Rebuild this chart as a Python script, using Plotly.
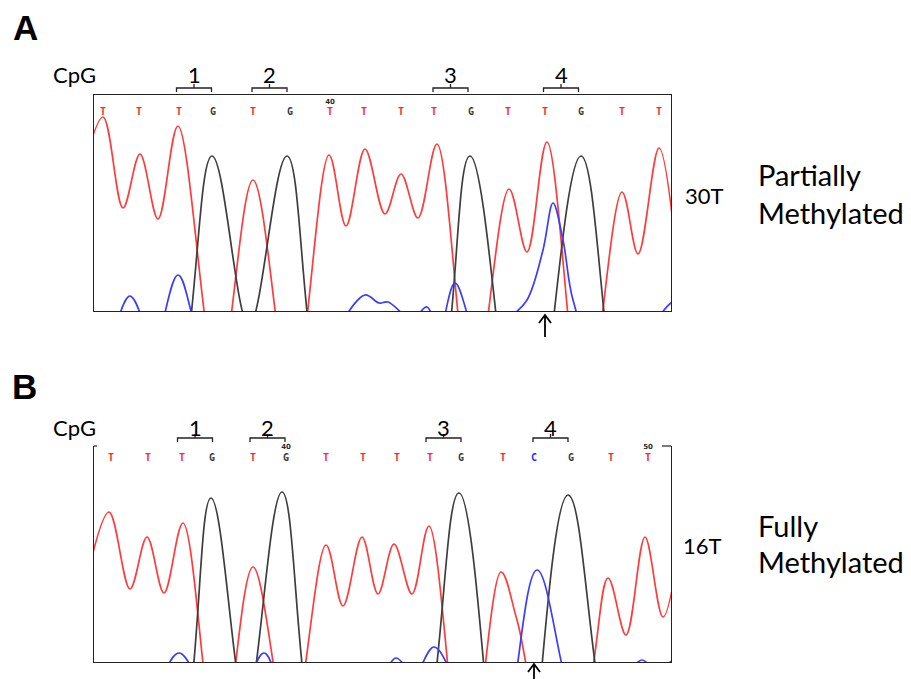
import plotly.graph_objects as go

W, H = 911, 679

# ---------------- data ----------------
# Scan positions along each trace and signal intensities per dye channel.
X_RANGE = [0, 577]
Y_RANGE = [0, 216]

# Panel A - clone 30T (partially methylated)
BASES_A = list("TTTGTGTTTTGTTGTT")
BASE_POS_A = [9, 45, 85, 119, 159, 196, 236, 270, 307, 340, 377, 414, 451, 487, 528, 565]
TICK_LABELS_A = {6: "40"}

RED_A_X = [-16, 9, 29, 46, 64, 84, 124, 159, 198, 235, 252, 271, 291, 307, 324, 343,
           378, 415, 433, 453, 490, 528, 544, 565, 584]
RED_A_Y = [120, 194, 103, 157, 92, 185, -69, 131, -89, 156, 85, 162, 97, 137, 93, 167,
           -89, 122, 59, 169, -109, 119, 57, 163, 40]

BLACK_A_X = [0, 66, 118, 155, 193, 246, 326, 376, 431, 487, 546, 606]
BLACK_A_Y = [-140, -137, 155, -15, 155, -139, -139, 155, -187, 155, -170, -140]

BLUE_A_X = [-20, 14, 36, 60, 84, 110, 150, 230, 245, 271, 285, 294, 318, 333, 345,
            361, 385, 416, 433, 449, 459, 469, 479, 495, 545, 577, 600]
BLUE_A_Y = [-30, -25, 15, -30, 36, -30, -40, -40, -15, 16, 8, 9, -8, 4, -20,
            28, -25, -6, 11, 61, 108, 71, 11, -25, -25, 8, 20]

# Panel B - clone 16T (fully methylated)
BASES_B = list("TTTGTGTTTTGTCGTT")
BASE_POS_B = [17, 54, 88, 118, 159, 192, 232, 269, 303, 336, 367, 409, 440, 477, 517, 554]
TICK_LABELS_B = {5: "40", 15: "50"}

RED_B_X = [-8, 15, 36, 53, 70, 89, 125, 159, 196, 232, 249, 268, 284, 300, 318, 335,
           372, 407, 423, 455, 489, 514, 532, 551, 569, 589]
RED_B_Y = [80, 150, 73, 125, 69, 139, -99, 95, -73, 117, 56, 125, 68, 118, 68, 136,
           -128, 90, 42, -80, -44, 84, 27, 125, 45, 140]

BLACK_B_X = [0, 70, 117, 152, 188, 240, 310, 365, 419, 474, 540, 620]
BLACK_B_Y = [-130, -134, 164, -46, 170, -140, -140, 169, -238, 167, -150, -150]

BLUE_B_X = [-20, 60, 85, 110, 150, 170, 190, 285, 302, 320, 340, 362, 403, 443, 488,
            530, 548, 562, 585]
BLUE_B_Y = [-30, -20, 9, -20, -20, 9, -20, -15, 4, -12, 15, -20, -92, 92, -56,
            -15, 2, -8, 8]

CPG_SITES = [(2, 3), (4, 5), (9, 10), (12, 13)]   # base index pairs
CPG_NAMES = ["1", "2", "3", "4"]
ARROW_BASE = 12

BASE_COLORS = {"T": "#ff2a2a", "G": "#3c3c3c", "C": "#2828ff", "A": "#1a9a1a"}
RED, BLACK, BLUE = "#ff3c3c", "#3e3e3e", "#3c3cff"

# ---------------- figure ----------------
fig = go.Figure()


def px(x):
    return x / W


def py(y):
    return 1 - y / H


def add_channel(xs, ys, color, xa, ya):
    fig.add_trace(go.Scatter(x=xs, y=ys, mode="lines",
                             line=dict(color=color, width=1.7, shape="spline", smoothing=1),
                             xaxis=xa, yaxis=ya, hoverinfo="skip", showlegend=False))


def add_calls(bases, pos, ticks, xa, ya, call_y, tick_y):
    fig.add_trace(go.Scatter(x=pos, y=[call_y] * len(pos), mode="text",
                             text=[f"<b>{b}</b>" for b in bases],
                             textfont=dict(family="DejaVu Sans Mono", size=10,
                                           color=[BASE_COLORS[b] for b in bases]),
                             cliponaxis=False, xaxis=xa, yaxis=ya, hoverinfo="skip", showlegend=False))
    fig.add_trace(go.Scatter(x=[pos[i] for i in ticks], y=[tick_y] * len(ticks), mode="text",
                             text=[f"<b>{t}</b>" for t in ticks.values()],
                             textfont=dict(family="DejaVu Sans", size=7, color="#2a2a2a"),
                             cliponaxis=False, xaxis=xa, yaxis=ya, hoverinfo="skip", showlegend=False))


add_channel(RED_A_X, RED_A_Y, RED, "x", "y")
add_channel(BLACK_A_X, BLACK_A_Y, BLACK, "x", "y")
add_channel(BLUE_A_X, BLUE_A_Y, BLUE, "x", "y")
add_calls(BASES_A, BASE_POS_A, TICK_LABELS_A, "x", "y", 199, 209)

add_channel(RED_B_X, RED_B_Y, RED, "x2", "y2")
add_channel(BLACK_B_X, BLACK_B_Y, BLACK, "x2", "y2")
add_channel(BLUE_B_X, BLUE_B_Y, BLUE, "x2", "y2")
add_calls(BASES_B, BASE_POS_B, TICK_LABELS_B, "x2", "y2", 204, 215)

ax_common = dict(range=X_RANGE, showgrid=False, zeroline=False, showticklabels=False,
                 ticks="", showline=True, linecolor="#222222", linewidth=1.2, fixedrange=True)
ay_common = dict(range=Y_RANGE, showgrid=False, zeroline=False, showticklabels=False,
                 ticks="", showline=True, linecolor="#222222", linewidth=1.2, fixedrange=True)

fig.update_layout(
    width=W, height=H, margin=dict(l=0, r=0, t=0, b=0),
    paper_bgcolor="white", plot_bgcolor="white", showlegend=False,
    xaxis=dict(domain=[px(94), px(671)], anchor="y", mirror=True, **ax_common),
    yaxis=dict(domain=[py(311), py(95)], anchor="x", mirror=True, **ay_common),
    xaxis2=dict(domain=[px(94), px(671)], anchor="y2", mirror=False, **ax_common),
    yaxis2=dict(domain=[py(662), py(446)], anchor="x2", mirror=True, **ay_common),
)

shapes = []
annotations = []
TEXT_FONT = "Lato, Open Sans, sans-serif"


def cpg_brackets(pos, xref, y_bar, y_label):
    for (i, j), name in zip(CPG_SITES, CPG_NAMES):
        c = (pos[i] + pos[j]) / 2 - 2
        x0, x1 = c - 17.5, c + 17.5
        shapes.append(dict(type="path", xref=xref, yref="paper",
                           path=f"M {x0},{py(y_bar + 4)} L {x0},{py(y_bar)} L {x1},{py(y_bar)} L {x1},{py(y_bar + 4)} "
                                f"M {c},{py(y_bar)} L {c},{py(y_bar - 4)}",
                           line=dict(color="#222222", width=1.3)))
        annotations.append(dict(x=c, y=py(y_label), xref=xref, yref="paper", text=name, showarrow=False,
                                xanchor="center", yanchor="middle",
                                font=dict(family=TEXT_FONT, size=22, color="black")))


def site_arrow(pos, xref, y_top, y_bottom):
    x = pos[ARROW_BASE]
    shapes.append(dict(type="path", xref=xref, yref="paper",
                       path=f"M {x},{py(y_bottom)} L {x},{py(y_top)} M {x - 6},{py(y_top + 8)} L {x},{py(y_top)} L {x + 6},{py(y_top + 8)}",
                       line=dict(color="black", width=1.8)))


cpg_brackets(BASE_POS_A, "x", 88, 74.5)
cpg_brackets(BASE_POS_B, "x2", 438, 427)
site_arrow(BASE_POS_A, "x", 315, 337)
site_arrow(BASE_POS_B, "x2", 664, 685)

# top-corner stubs of the lower trace frame
shapes.append(dict(type="line", xref="paper", yref="paper", x0=px(94), x1=px(97), y0=py(446), y1=py(446),
                   line=dict(color="#222222", width=1.2)))
shapes.append(dict(type="line", xref="paper", yref="paper", x0=px(662), x1=px(671), y0=py(446), y1=py(446),
                   line=dict(color="#222222", width=1.2)))


def label(text, x, y, size, xanchor="left", bold=False, family=TEXT_FONT):
    annotations.append(dict(x=px(x), y=py(y), xref="paper", yref="paper",
                            text=f"<b>{text}</b>" if bold else text, showarrow=False,
                            xanchor=xanchor, yanchor="middle",
                            font=dict(family=family, size=size, color="black")))


label("A", 25, 27.5, 35, "center", True, "Liberation Sans, Arial")
label("B", 24, 386, 35, "center", True, "Liberation Sans, Arial")
label("CpG", 51, 74.5, 22)
label("CpG", 51, 427, 22)
label("30T", 704, 195.5, 22, "center")
label("16T", 702, 545, 22, "center")
label("Partially", 756, 175, 29)
label("Methylated", 756, 212.5, 29)
label("Fully", 756, 525, 29)
label("Methylated", 756, 561.5, 29)

fig.update_layout(shapes=shapes, annotations=annotations)
fig.write_html("out.html")
